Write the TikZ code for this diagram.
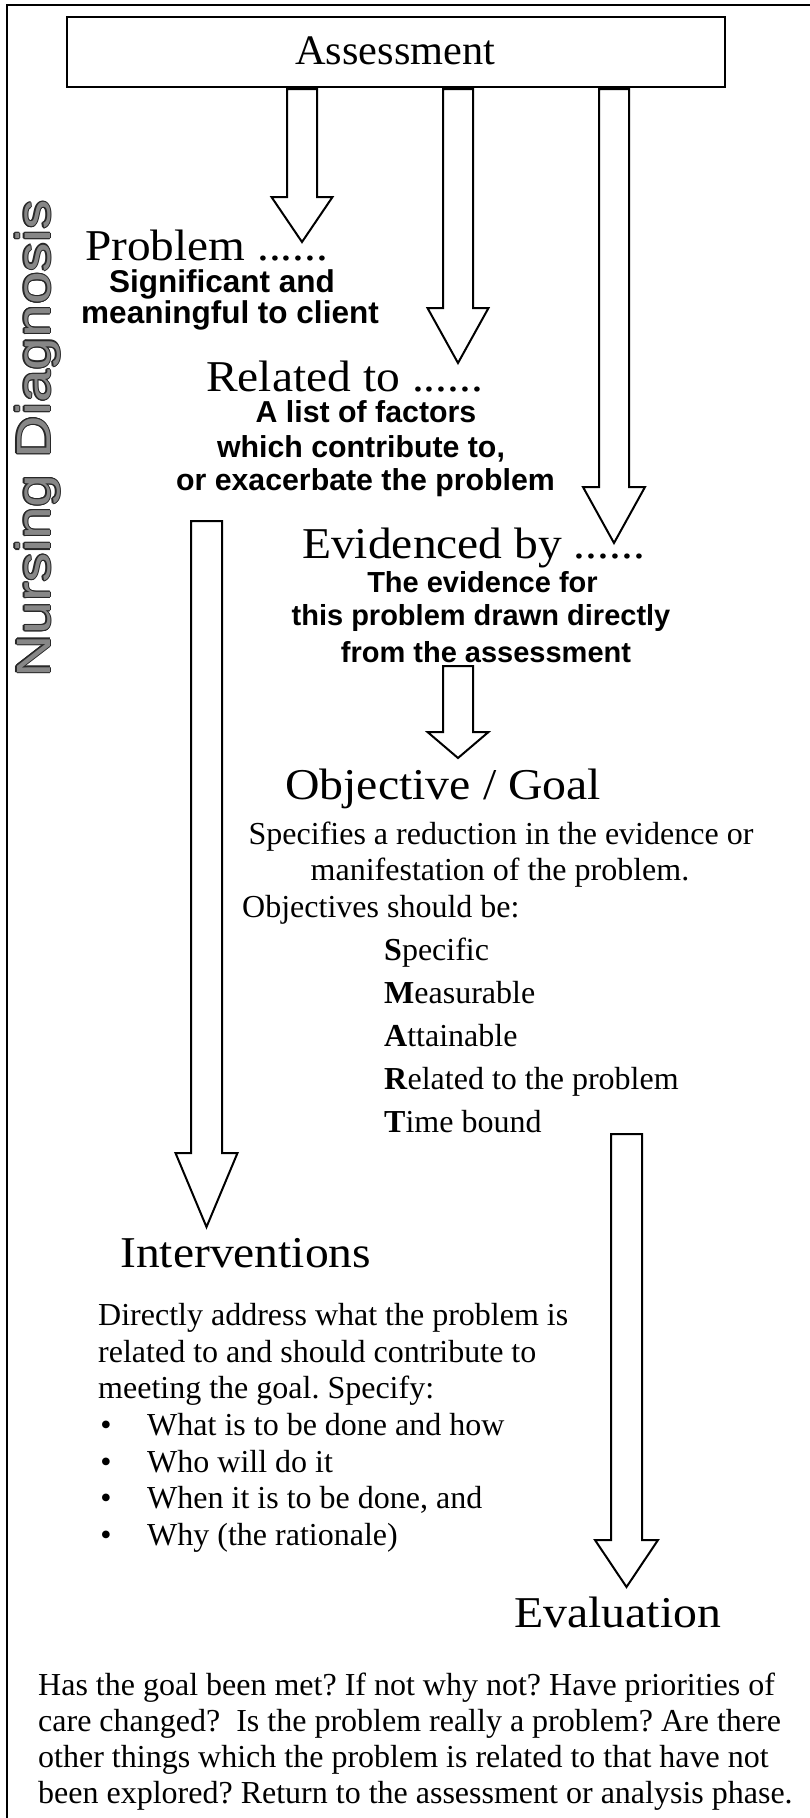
\documentclass[tikz,border=0pt]{standalone}
\usepackage{fontspec}
\usepackage{graphicx}
\setmainfont{Liberation Serif}
\newfontfamily\sansfam{Liberation Sans}
\usetikzlibrary{calc}
\newcommand{\fsz}[1]{\fontsize{#1pt}{#1pt}\selectfont}
\newcommand{\hfit}[2]{\resizebox{#1pt}{\height}{#2}}
\definecolor{ndgray}{RGB}{135,135,135}
\definecolor{ndline}{RGB}{40,40,40}
\tikzset{
  barrow/.style={draw=black, fill=white, line width=2pt, line join=miter},
  hd/.style={inner sep=0pt, anchor=base west, font=\fsz{44}},
  bd/.style={inner sep=0pt, anchor=base west, font=\fsz{32}},
  bdc/.style={inner sep=0pt, anchor=base, font=\fsz{32}},
  sn/.style={inner sep=0pt, anchor=base, font=\sansfam\bfseries\fsz{#1}},
  ndtext/.style={rotate=90, anchor=base, inner sep=0pt, font=\sansfam\fsz{48}},
}
\newcommand{\blockarrow}[5]{%
  \draw[barrow] let \p1=(#1), \p2=(#2) in
    (\x1-#3,\y1) -- (\x1+#3,\y1) -- (\x1+#3,\y2+#5) -- (\x1+#4,\y2+#5)
    -- (\x2,\y2) -- (\x1-#4,\y2+#5) -- (\x1-#3,\y2+#5) -- cycle;}
\begin{document}
\frenchspacing
\begin{tikzpicture}[x=1pt,y=-1pt]
\useasboundingbox (0,0) rectangle (810,1818);
\fill[white] (0,0) rectangle (810,1818);
\begin{scope}
  \clip (0,0) rectangle (810,1818);
  \draw[line width=2pt] (7,5) rectangle (860,1870);
\end{scope}

% Assessment box
\node[draw, line width=2.3pt, minimum width=658pt, minimum height=70pt, inner sep=0pt] (assess) at (396,52) {};
\node[hd, font=\fsz{42}] (assesstxt) at (295,64) {\hfit{200}{Assessment}};

% arrow end points
\coordinate (a1top) at (302,89);   \coordinate (a1tip) at (302,242);
\coordinate (a2top) at (458,89);   \coordinate (a2tip) at (458,363);
\coordinate (a3top) at (614,89);   \coordinate (a3tip) at (614,543);
\coordinate (a4top) at (206.5,521); \coordinate (a4tip) at (206.5,1227);
\coordinate (a5top) at (458,666);  \coordinate (a5tip) at (458,758);
\coordinate (a6top) at (626.5,1134); \coordinate (a6tip) at (626.5,1587);

\blockarrow{a1top}{a1tip}{15pt}{30.5pt}{45pt}
\blockarrow{a2top}{a2tip}{15pt}{30.5pt}{55pt}
\blockarrow{a3top}{a3tip}{15pt}{31pt}{56pt}
\blockarrow{a4top}{a4tip}{15.5pt}{31pt}{74pt}
\blockarrow{a5top}{a5tip}{15pt}{30.5pt}{26pt}
\blockarrow{a6top}{a6tip}{15.5pt}{31.5pt}{47pt}

% Nursing Diagnosis (vertical, outlined grey letters)
\coordinate (ndc) at (50,438.5);
\foreach \a in {0,30,...,330}{
  \node[ndtext, text=ndline] (ndo\a) at ($(ndc)+(\a:1.1)$) {\hfit{477}{Nursing Diagnosis}};
}
\node[ndtext, text=ndgray] (nd) at (ndc) {\hfit{477}{Nursing Diagnosis}};

% Headings
\node[hd] (prob) at (85,260) {\hfit{243}{Problem ......}};
\node[hd] (rel) at (206,391) {\hfit{277}{Related to ......}};
\node[hd] (evid) at (302,558) {\hfit{343}{Evidenced by ......}};
\node[hd] (obj) at (285,799) {\hfit{316}{Objective / Goal}};
\node[hd] (interv) at (120,1267) {\hfit{251}{Interventions}};
\node[hd] (evalh) at (514,1627) {\hfit{207}{Evaluation}};

% Sans explanations
\node[sn=31.5] (sig1) at (222,292) {Significant and};
\node[sn=31.5] (sig2) at (230,323) {meaningful to client};
\node[sn=30.3] (rel1) at (366,422) {A list of factors};
\node[sn=30.3] (rel2) at (361,457) {which contribute to,};
\node[sn=30.3] (rel3) at (365.5,490) {or exacerbate the problem};
\node[sn=29] (ev1) at (482.5,592) {The evidence for};
\node[sn=29] (ev2) at (481,625) {this problem drawn directly};
\node[sn=29] (ev3) at (486,662) {from the assessment};

% Objective text
\node[bdc] (spec1) at (501,844) {Specifies a reduction in the evidence or};
\node[bdc] (spec2) at (500,880) {manifestation of the problem.};
\node[bd] (objs) at (242,917) {Objectives should be:};
\node[bd] (smS) at (384,960) {\textbf{S}pecific};
\node[bd] (smM) at (384,1003) {\textbf{M}easurable};
\node[bd] (smA) at (384,1046) {\textbf{A}ttainable};
\node[bd] (smR) at (384,1089) {\textbf{R}elated to the problem};
\node[bd] (smT) at (384,1132) {\textbf{T}ime bound};

% Interventions text
\node[bd] (dir1) at (98,1325) {Directly address what the problem is};
\node[bd] (dir2) at (98,1362) {related to and should contribute to};
\node[bd] (dir3) at (98,1398) {meeting the goal. Specify:};
\node[bdc] (bu1) at (106,1435) {\textbullet};
\node[bdc] (bu2) at (106,1472) {\textbullet};
\node[bdc] (bu3) at (106,1508) {\textbullet};
\node[bdc] (bu4) at (106,1545) {\textbullet};
\node[bd] (it1) at (147,1435) {What is to be done and how};
\node[bd] (it2) at (147,1472) {Who will do it};
\node[bd] (it3) at (147,1508) {When it is to be done, and};
\node[bd] (it4) at (147,1545) {Why (the rationale)};

% Evaluation text
\node[bd] (ev_l1) at (38,1695) {Has the goal been met? If not why not? Have priorities of};
\node[bd] (ev_l2) at (38,1731) {care changed?\ \ Is the problem really a problem? Are there};
\node[bd] (ev_l3) at (38,1767) {other things which the problem is related to that have not};
\node[bd] (ev_l4) at (38,1803) {been explored? Return to the assessment or analysis phase.};
\end{tikzpicture}
\end{document}
